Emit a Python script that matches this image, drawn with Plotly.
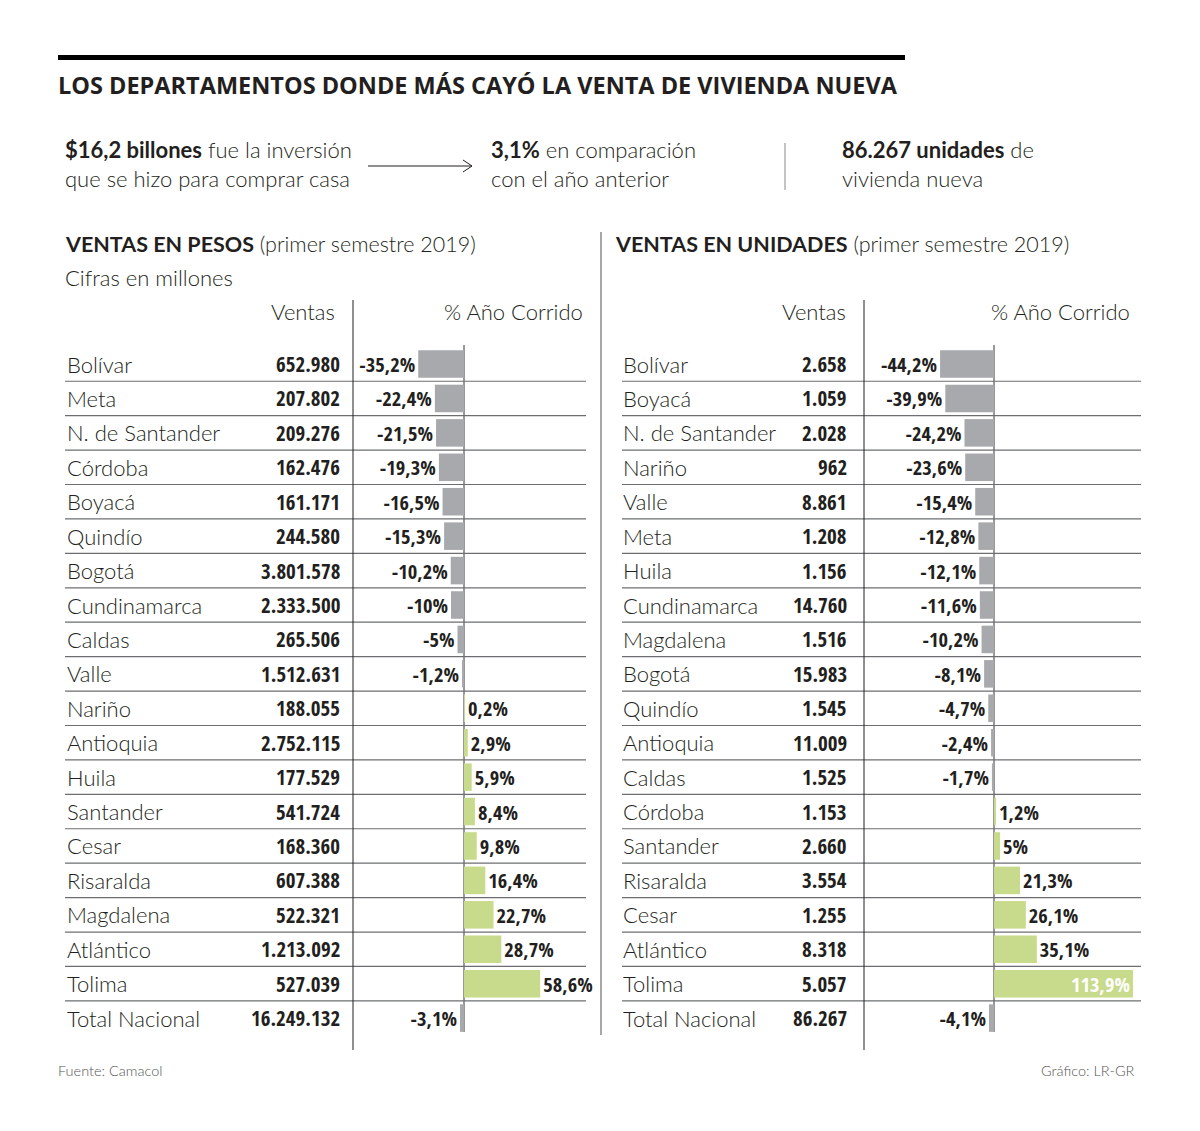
import plotly.graph_objects as go

# ---------------- DATA ----------------
pesos_departamentos = ["Bolívar", "Meta", "N. de Santander", "Córdoba", "Boyacá", "Quindío",
                       "Bogotá", "Cundinamarca", "Caldas", "Valle", "Nariño", "Antioquia",
                       "Huila", "Santander", "Cesar", "Risaralda", "Magdalena", "Atlántico",
                       "Tolima", "Total Nacional"]
pesos_ventas = [652980, 207802, 209276, 162476, 161171, 244580, 3801578, 2333500, 265506,
                1512631, 188055, 2752115, 177529, 541724, 168360, 607388, 522321, 1213092,
                527039, 16249132]
pesos_pct = [-35.2, -22.4, -21.5, -19.3, -16.5, -15.3, -10.2, -10, -5, -1.2, 0.2, 2.9, 5.9,
             8.4, 9.8, 16.4, 22.7, 28.7, 58.6, -3.1]

unid_departamentos = ["Bolívar", "Boyacá", "N. de Santander", "Nariño", "Valle", "Meta",
                      "Huila", "Cundinamarca", "Magdalena", "Bogotá", "Quindío", "Antioquia",
                      "Caldas", "Córdoba", "Santander", "Risaralda", "Cesar", "Atlántico",
                      "Tolima", "Total Nacional"]
unid_ventas = [2658, 1059, 2028, 962, 8861, 1208, 1156, 14760, 1516, 15983, 1545, 11009, 1525,
               1153, 2660, 3554, 1255, 8318, 5057, 86267]
unid_pct = [-44.2, -39.9, -24.2, -23.6, -15.4, -12.8, -12.1, -11.6, -10.2, -8.1, -4.7, -2.4,
            -1.7, 1.2, 5, 21.3, 26.1, 35.1, 113.9, -4.1]

# ---------------- STYLE ----------------
W, H = 1200, 1131
GRAY = "#a7a9ac"
GREEN = "#c8da8b"
INK = "#231f20"
REG = "Lato, 'Open Sans', sans-serif"
COND = ("'Liberation Sans Narrow', 'Noto Sans Condensed', 'Open Sans Condensed', "
        "'DejaVu Sans Condensed', sans-serif")


def X(px):
    return px / W


def Y(py):
    return 1 - py / H


def fmt_pct(v):
    s = f"{v:.0f}" if float(v).is_integer() else f"{v:.1f}".replace(".", ",")
    return s + "%"


def fmt_int(v):
    return f"{v:,}".replace(",", ".")


fig = go.Figure()


def add_bars(names, pct, xa, ya, inside_big=None):
    positions, colors = [], []
    for v in pct:
        if inside_big is not None and v > inside_big:
            positions.append("inside")
            colors.append("white")
        else:
            positions.append("outside")
            colors.append(INK)
    fig.add_trace(go.Bar(
        orientation="h", x=pct, y=names, xaxis=xa, yaxis=ya,
        marker=dict(color=[GRAY if v < 0 else GREEN for v in pct], line=dict(width=0)),
        width=0.8,
        text=[fmt_pct(v) for v in pct], textposition=positions,
        insidetextanchor="end",
        textfont=dict(family=COND, size=20.5, color=colors, weight=700),
        textangle=0, constraintext="none", cliponaxis=False,
        hoverinfo="skip", showlegend=False,
    ))


add_bars(pesos_departamentos, pesos_pct, "x", "y")
add_bars(unid_departamentos, unid_pct, "x2", "y2", inside_big=100)

# ---------------- AXES ----------------
# left: zero at px 464, 1.3 px per %; right: zero at px 994, 1.22 px per %
yr = [22.28, -10.575]
fig.update_layout(
    xaxis=dict(domain=[0, 1], range=[-464 / 1.3, (W - 464) / 1.3], visible=False, fixedrange=True),
    xaxis2=dict(domain=[0, 1], range=[-994 / 1.22, (W - 994) / 1.22], visible=False,
                overlaying="x", anchor="y2", fixedrange=True),
    yaxis=dict(domain=[0, 1], type="category", categoryorder="array",
               categoryarray=pesos_departamentos, range=yr, visible=False, fixedrange=True),
    yaxis2=dict(domain=[0, 1], type="category", categoryorder="array",
                categoryarray=unid_departamentos, range=yr, visible=False,
                overlaying="y", anchor="x2", fixedrange=True),
)

shapes = []
ann = []

# top black bar
shapes.append(dict(type="rect", xref="paper", yref="paper", x0=X(58), x1=X(905),
                   y0=Y(60), y1=Y(55), fillcolor="black", line=dict(width=0), layer="above"))

# title
ann.append(dict(text="<b>LOS DEPARTAMENTOS DONDE MÁS CAYÓ LA VENTA DE VIVIENDA NUEVA</b>",
                x=X(58), y=Y(85), xanchor="left", yanchor="middle",
                font=dict(family="'Open Sans', sans-serif", size=23.5, color=INK)))

# key figures (two lines each)
sub_font = dict(family=REG, size=22, color=INK, weight=300)
for txt, px in [
    ("<b>$16,2 billones</b> fue la inversión<br>que se hizo para comprar casa", 65),
    ("<b>3,1%</b> en comparación<br>con el año anterior", 491),
    ("<b>86.267 unidades</b> de<br>vivienda nueva", 842),
]:
    ann.append(dict(text=txt, x=X(px), y=Y(164), xanchor="left", yanchor="middle",
                    align="left", font=sub_font))

# arrow
shapes.append(dict(type="line", xref="paper", yref="paper", x0=X(368), x1=X(472),
                   y0=Y(166), y1=Y(166), line=dict(color=INK, width=1)))
shapes.append(dict(type="line", xref="paper", yref="paper", x0=X(463), x1=X(472),
                   y0=Y(160), y1=Y(166), line=dict(color=INK, width=1)))
shapes.append(dict(type="line", xref="paper", yref="paper", x0=X(463), x1=X(472),
                   y0=Y(172), y1=Y(166), line=dict(color=INK, width=1)))
# small divider
shapes.append(dict(type="line", xref="paper", yref="paper", x0=X(785), x1=X(785),
                   y0=Y(143), y1=Y(190), line=dict(color="#8a8a8a", width=1)))

# section heads
head_font = dict(family=REG, size=21.5, color=INK, weight=300)
ann.append(dict(text="<b>VENTAS EN PESOS</b> (primer semestre 2019)", x=X(65), y=Y(244),
                xanchor="left", yanchor="middle", font=head_font))
ann.append(dict(text="Cifras en millones", x=X(65), y=Y(277),
                xanchor="left", yanchor="middle", font=dict(head_font, size=22)))
ann.append(dict(text="<b>VENTAS EN UNIDADES</b> (primer semestre 2019)", x=X(615), y=Y(244),
                xanchor="left", yanchor="middle", font=head_font))

# panel divider
shapes.append(dict(type="line", xref="paper", yref="paper", x0=X(601), x1=X(601),
                   y0=Y(232), y1=Y(1035), line=dict(color="#8a8a8a", width=1.5)))

# column headers
col_font = dict(family=REG, size=22, color=INK, weight=300)
for txt, px in [("Ventas", 335), ("% Año Corrido", 583), ("Ventas", 846), ("% Año Corrido", 1130)]:
    ann.append(dict(text=txt, x=X(px), y=Y(311), xanchor="right", yanchor="middle", font=col_font))

# table lines
for px in (353, 864):
    shapes.append(dict(type="line", xref="paper", yref="paper", x0=X(px), x1=X(px),
                       y0=Y(300), y1=Y(1050), line=dict(color=INK, width=1)))
for xr in ("x", "x2"):
    shapes.append(dict(type="line", xref=xr, yref="paper", x0=0, x1=0,
                       y0=Y(345), y1=Y(1032), line=dict(color="#333333", width=1),
                       layer="below"))

label_font = dict(family=REG, size=22, color=INK, weight=300)
num_font = dict(family=COND, size=21, color=INK, weight=700)


def table(names, ventas, yref, x_lab, x_num, x_line0, x_line1):
    for i, (n, v) in enumerate(zip(names, ventas)):
        ann.append(dict(text=n, x=X(x_lab), y=n, xref="paper", yref=yref,
                        xanchor="left", yanchor="middle", font=label_font))
        ann.append(dict(text=fmt_int(v), x=X(x_num), y=n, xref="paper", yref=yref,
                        xanchor="right", yanchor="middle", font=num_font))
        if i < len(names) - 1:
            shapes.append(dict(type="line", xref="paper", yref=yref, x0=X(x_line0), x1=X(x_line1),
                               y0=i + 0.5, y1=i + 0.5, line=dict(color="#6d6e71", width=1.2),
                               layer="below"))


table(pesos_departamentos, pesos_ventas, "y", 67, 340, 65, 586)
table(unid_departamentos, unid_ventas, "y2", 623, 847, 622, 1141)

# footer
foot_font = dict(family=REG, size=14.5, color="#555555", weight=300)
ann.append(dict(text="Fuente: Camacol", x=X(58), y=Y(1070), xanchor="left", yanchor="middle",
                font=foot_font))
ann.append(dict(text="Gráfico: LR-GR", x=X(1135), y=Y(1070), xanchor="right", yanchor="middle",
                font=foot_font))

for a in ann:
    a.setdefault("xref", "paper")
    a.setdefault("yref", "paper")
    a["showarrow"] = False
    a["borderpad"] = 0
    a["borderwidth"] = 0

fig.update_layout(
    width=W, height=H, autosize=False,
    margin=dict(l=0, r=0, t=0, b=0, pad=0),
    paper_bgcolor="white", plot_bgcolor="rgba(0,0,0,0)",
    shapes=shapes, annotations=ann, showlegend=False,
    bargap=0.2,
)

fig.write_html("out.html", config={"displayModeBar": False},
               post_script="document.body.style.margin='0';document.body.style.padding='0';")
